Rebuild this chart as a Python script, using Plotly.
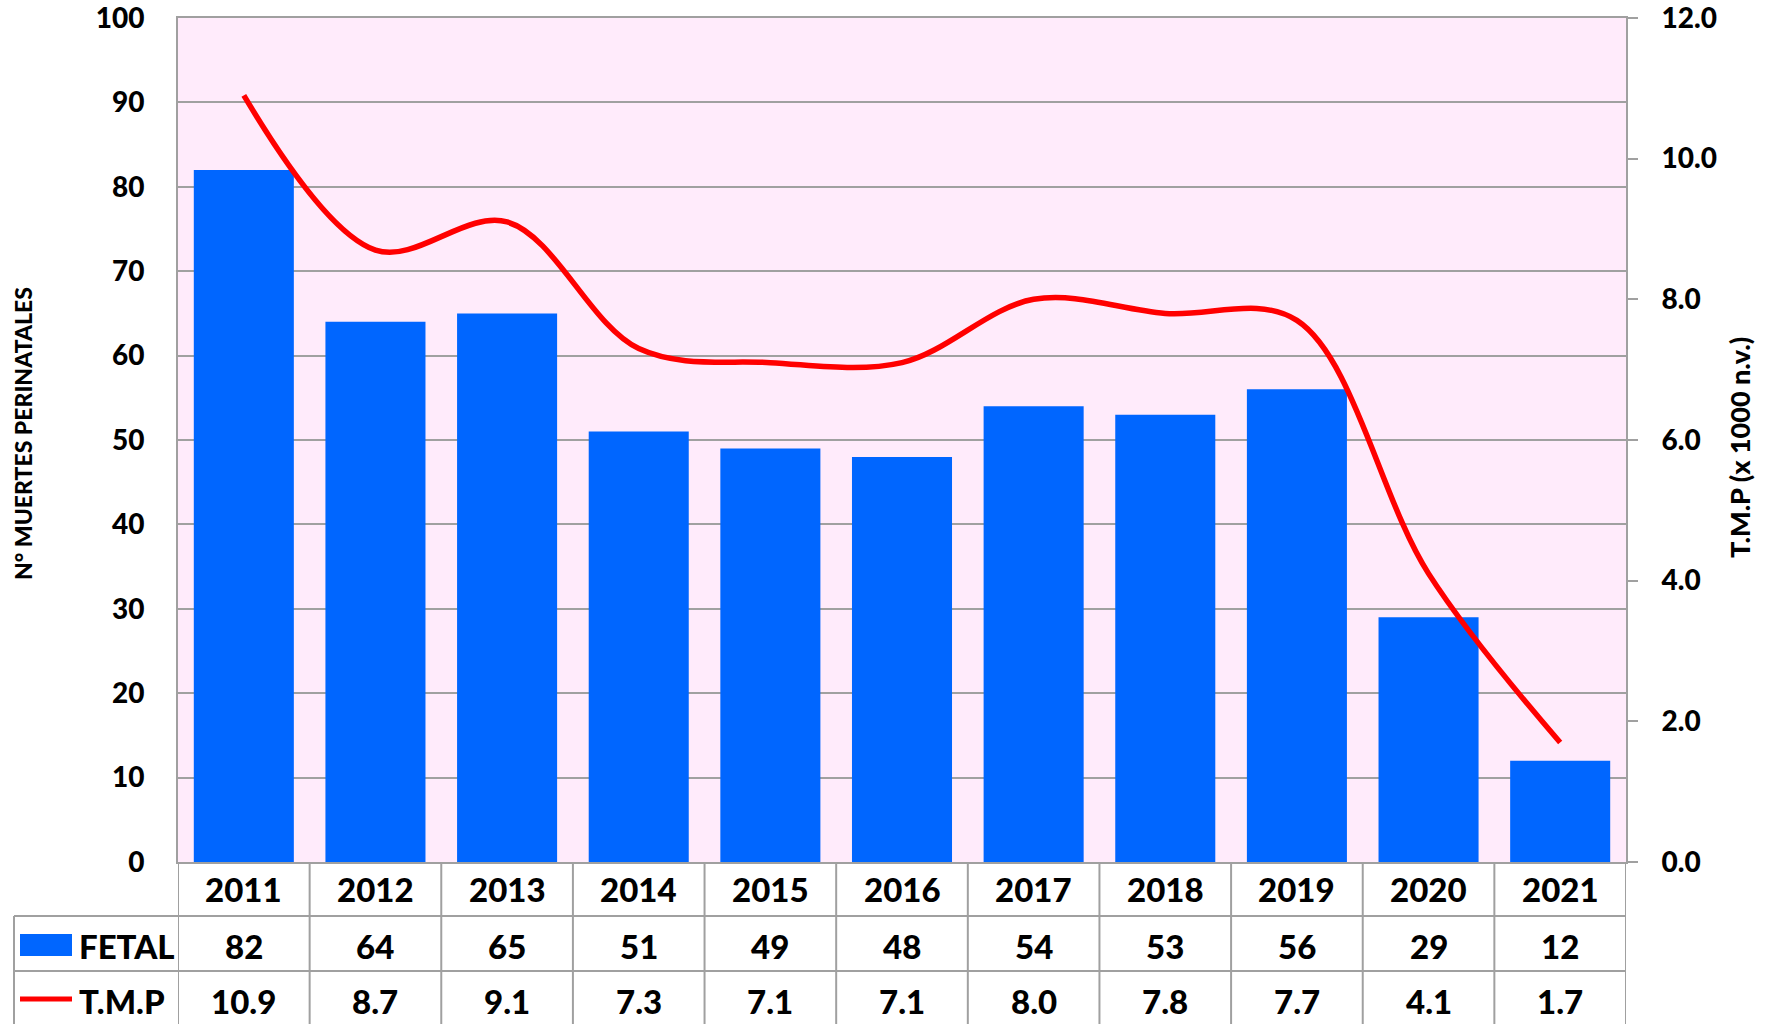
import plotly.graph_objects as go

years = [2011, 2012, 2013, 2014, 2015, 2016, 2017, 2018, 2019, 2020, 2021]
fetal = [82, 64, 65, 51, 49, 48, 54, 53, 56, 29, 12]
tmp = [10.9, 8.7, 9.1, 7.3, 7.1, 7.1, 8.0, 7.8, 7.7, 4.1, 1.7]

W, H = 1767, 1024
PL, PR, PT, PB = 178, 1626, 18, 862   # plot area in screen pixels
PW, PH = PR - PL, PB - PT
GRAY = '#A0A0A0'
FONT = 'Lato'
WEIGHT = 900


def px_y(p):
    # screen pixel row -> paper y
    return (PB - p) / PH


def px_x(p):
    return (p - PL) / PW


fig = go.Figure()
fig.add_trace(go.Bar(x=years, y=fetal, marker_color='#0066FF', marker_line_width=0,
                     name='FETAL', showlegend=False))
fig.add_trace(go.Scatter(x=years, y=tmp, yaxis='y2', mode='lines', name='T.M.P',
                         line=dict(color='#FF0000', width=5.5, shape='spline', smoothing=1),
                         showlegend=False))

shapes = []
row1, row2, bottom = px_y(916), px_y(971), px_y(H + 4)
for yy in [row1, row2]:
    shapes.append(dict(type='line', xref='paper', yref='paper', x0=px_x(14), x1=1,
                       y0=yy, y1=yy, line=dict(color=GRAY, width=2)))
shapes.append(dict(type='line', xref='paper', yref='paper', x0=px_x(14), x1=px_x(14),
                   y0=row1, y1=bottom, line=dict(color=GRAY, width=2)))
for b in [years[0] - 0.5] + [y + 0.5 for y in years]:
    shapes.append(dict(type='line', xref='x', yref='paper', x0=b, x1=b, y0=0, y1=bottom,
                       line=dict(color=GRAY, width=2)))
# legend keys
shapes.append(dict(type='rect', xref='paper', yref='paper', x0=px_x(20), x1=px_x(72),
                   y0=px_y(956), y1=px_y(934), fillcolor='#0066FF', line_width=0))
shapes.append(dict(type='line', xref='paper', yref='paper', x0=px_x(20), x1=px_x(72),
                   y0=px_y(999), y1=px_y(999), line=dict(color='#FF0000', width=5)))

tfont = dict(family=FONT, size=33, color='black', weight=WEIGHT)
ann = []
for yr, f, t in zip(years, fetal, tmp):
    ann.append(dict(x=yr, y=px_y(889), xref='x', yref='paper', text=str(yr),
                    showarrow=False, font=tfont, yanchor='middle'))
    ann.append(dict(x=yr, y=px_y(946), xref='x', yref='paper', text=str(f),
                    showarrow=False, font=tfont, yanchor='middle'))
    ann.append(dict(x=yr, y=px_y(1001), xref='x', yref='paper', text=f'{t:.1f}',
                    showarrow=False, font=tfont, yanchor='middle'))
ann.append(dict(x=px_x(77), y=px_y(946), xref='paper', yref='paper', text='FETAL',
                showarrow=False, font=tfont, xanchor='left', yanchor='middle'))
ann.append(dict(x=px_x(77), y=px_y(1001), xref='paper', yref='paper', text='T.M.P',
                showarrow=False, font=tfont, xanchor='left', yanchor='middle'))
ann.append(dict(x=px_x(23), y=px_y(434), xref='paper', yref='paper',
                text='N° MUERTES PERINATALES', textangle=-90, showarrow=False,
                xanchor='center', yanchor='middle',
                font=dict(family=FONT, size=23, color='black', weight=WEIGHT)))
ann.append(dict(x=px_x(1739), y=px_y(448), xref='paper', yref='paper',
                text='T.M.P (x 1000 n.v.)', textangle=-90, showarrow=False,
                xanchor='center', yanchor='middle',
                font=dict(family=FONT, size=27, color='black', weight=WEIGHT)))

fig.update_layout(
    width=W, height=H,
    margin=dict(l=PL, r=W - PR, t=PT, b=H - PB, pad=0, autoexpand=False),
    paper_bgcolor='white', plot_bgcolor='#FFEBFB',
    bargap=0.24,
    shapes=shapes, annotations=ann,
    xaxis=dict(range=[years[0] - 0.5, years[-1] + 0.5], showticklabels=False, showgrid=False,
               zeroline=False, showline=True, linecolor=GRAY, linewidth=2, mirror=True, ticks='',
               automargin=False),
    yaxis=dict(range=[0, 100], dtick=10, showgrid=True, gridcolor=GRAY, gridwidth=1.5,
               zeroline=False, showline=True, linecolor=GRAY, linewidth=2, ticks='',
               ticklabelstandoff=26, ticklabeloverflow='allow', automargin=False,
               tickfont=dict(family=FONT, size=28, color='black', weight=WEIGHT)),
    yaxis2=dict(range=[0, 12], dtick=2, tickformat='.1f', overlaying='y', side='right',
                showgrid=False, zeroline=False, showline=True, linecolor=GRAY, linewidth=2,
                ticks='outside', ticklen=10, tickcolor=GRAY, tickwidth=2, ticklabelstandoff=18,
                ticklabeloverflow='allow', automargin=False,
                tickfont=dict(family=FONT, size=28, color='black', weight=WEIGHT)),
)

# drop the default 8px page margin so the figure sits at the window's corner
fig.write_html('out.html', config={'displayModeBar': False},
               post_script="document.body.style.margin='0';")
